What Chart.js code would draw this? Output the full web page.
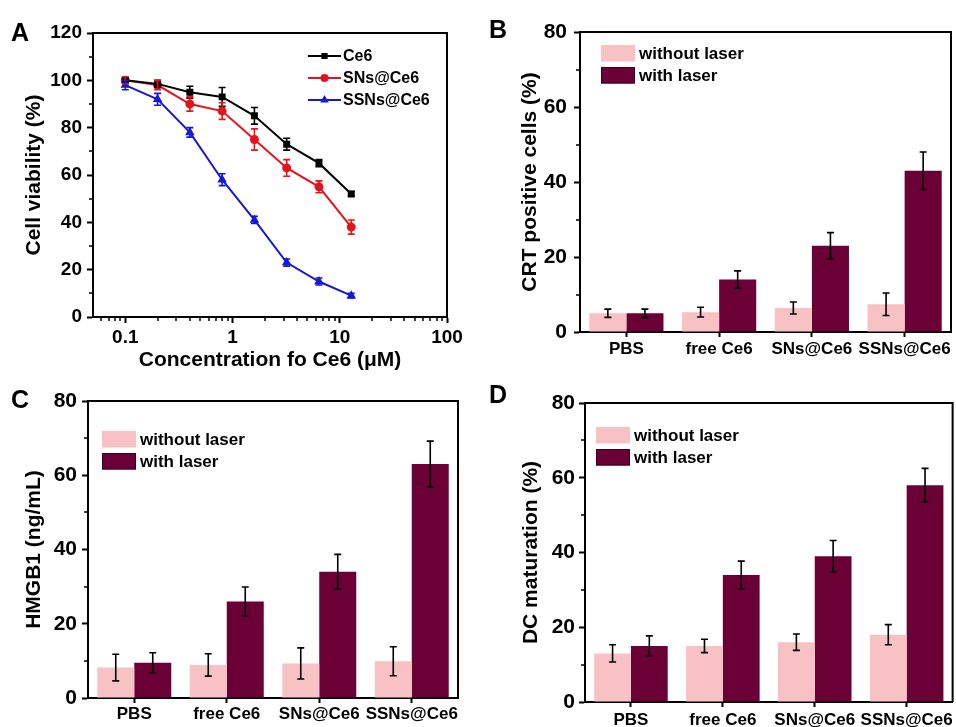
<!DOCTYPE html>
<html>
<head>
<meta charset="utf-8">
<script src="https://cdn.jsdelivr.net/npm/chart.js@4.4.0/dist/chart.umd.min.js"></script>
<style>
  html, body { margin: 0; padding: 0; background: #fff; }
  #wrap { position: relative; width: 956px; height: 727px; overflow: hidden; }
  canvas { position: absolute; }
  .tag { position: absolute; font: bold 25px "Liberation Sans", Arial, sans-serif; line-height: 1; color: #000; }
</style>
</head>
<body>
<div id="wrap">
  <canvas id="cA" width="478" height="380" style="left:0;top:0"></canvas>
  <canvas id="cB" width="478" height="370" style="left:478px;top:0"></canvas>
  <canvas id="cC" width="478" height="357" style="left:0;top:370px"></canvas>
  <canvas id="cD" width="478" height="357" style="left:478px;top:370px"></canvas>
  <div class="tag" style="left:11px;top:20px">A</div>
  <div class="tag" style="left:489px;top:17px">B</div>
  <div class="tag" style="left:11px;top:387px">C</div>
  <div class="tag" style="left:489px;top:382px">D</div>
</div>
<script>
// panel A: cell viability vs concentration
const conc = [0.1, 0.2, 0.4, 0.8, 1.6, 3.2, 6.4, 12.8];
const ce6 = [100, 98.5, 95, 93, 85, 73, 65, 52];
const ce6Err = [1, 1.5, 2.5, 4, 3.5, 2.5, 1.5, 1];
const sns = [100, 98, 90, 87, 75, 63, 55, 38];
const snsErr = [1.5, 2, 3, 3.5, 4.5, 3.5, 2.5, 3];
const ssns = [98, 92, 78, 58, 41, 23, 15, 9];
const ssnsErr = [2, 2.5, 2, 2.5, 1.5, 1.5, 1.5, 1];

// panels B-D
const groups = ['PBS', 'free Ce6', 'SNs@Ce6', 'SSNs@Ce6'];
const crtOff = [5, 5.3, 6.4, 7.4];
const crtOffErr = [1.1, 1.3, 1.6, 3];
const crtOn = [5, 14, 23, 43];
const crtOnErr = [1.1, 2.3, 3.5, 5];
const hmgbOff = [8.2, 8.9, 9.3, 9.9];
const hmgbOffErr = [3.6, 3, 4.2, 3.9];
const hmgbOn = [9.5, 26, 34, 63];
const hmgbOnErr = [2.7, 3.9, 4.7, 6.2];
const dcOff = [13, 15, 16, 18];
const dcOffErr = [2.3, 1.8, 2.2, 2.7];
const dcOn = [15, 34, 39, 58];
const dcOnErr = [2.7, 3.7, 4.2, 4.5];

const FONT = '"Liberation Sans", Arial, sans-serif';
Chart.defaults.font.family = FONT;
Chart.defaults.font.weight = 'bold';
Chart.defaults.color = '#000';

const PINK = '#f8c2c5';
const MAROON = '#6a0036';

function val(d) { return (d !== null && typeof d === 'object') ? d.y : d; }

// error bars, minor ticks, box frame and legend
const deco = {
  id: 'deco',
  afterDatasetsDraw(chart) {
    const ctx = chart.ctx;
    chart.data.datasets.forEach((ds, i) => {
      if (!ds.errors) return;
      const meta = chart.getDatasetMeta(i);
      const ys = chart.scales[meta.yAxisID];
      ctx.save();
      ctx.strokeStyle = ds.errColor || '#000';
      ctx.lineWidth = 1.6;
      meta.data.forEach((el, j) => {
        const v = val(ds.data[j]), e = ds.errors[j];
        const x = el.x;
        const y1 = ys.getPixelForValue(v + e), y2 = ys.getPixelForValue(v - e);
        ctx.beginPath();
        ctx.moveTo(x, y1); ctx.lineTo(x, y2);
        ctx.moveTo(x - 3.5, y1); ctx.lineTo(x + 3.5, y1);
        ctx.moveTo(x - 3.5, y2); ctx.lineTo(x + 3.5, y2);
        ctx.stroke();
      });
      ctx.restore();
    });
  },
  afterDraw(chart, args, o) {
    const ctx = chart.ctx, a = chart.chartArea;
    ctx.save();
    ctx.strokeStyle = '#000';
    ctx.lineWidth = 2;
    // top and right frame
    ctx.beginPath();
    ctx.moveTo(a.left, a.top); ctx.lineTo(a.right, a.top); ctx.lineTo(a.right, a.bottom);
    ctx.stroke();
    // minor y ticks
    const ys = chart.scales.y;
    ctx.lineWidth = 1.5;
    ctx.beginPath();
    for (let v = ys.min + o.minorY; v < ys.max; v += o.minorY * 2) {
      const y = Math.round(ys.getPixelForValue(v));
      ctx.moveTo(a.left, y); ctx.lineTo(a.left - 4, y);
    }
    // minor log x ticks
    if (o.logMinor) {
      const xs = chart.scales.x;
      for (let d = 0.01; d < xs.max; d *= 10) {
        for (let m = 2; m <= 9; m++) {
          const v = m * d;
          if (v <= xs.min || v >= xs.max) continue;
          const x = Math.round(xs.getPixelForValue(v));
          ctx.moveTo(x, a.bottom); ctx.lineTo(x, a.bottom + 4);
        }
      }
    }
    ctx.stroke();
    // legend
    const L = o.legend;
    ctx.font = 'bold ' + L.size + 'px ' + FONT;
    ctx.textBaseline = 'middle';
    ctx.textAlign = 'left';
    chart.data.datasets.forEach((ds, i) => {
      const x0 = a.left + L.dx, yc = a.top + L.dy + i * L.row;
      if (L.kind === 'line') {
        ctx.strokeStyle = ds.borderColor; ctx.fillStyle = ds.borderColor;
        ctx.lineWidth = 2;
        ctx.beginPath(); ctx.moveTo(x0, yc); ctx.lineTo(x0 + 33, yc); ctx.stroke();
        Chart.helpers.drawPoint(ctx, {pointStyle: ds.pointStyle, radius: 3, rotation: 0, borderWidth: 1}, x0 + 16.5, yc);
        ctx.fillStyle = '#000';
        ctx.fillText(ds.label, x0 + 35, yc + 1);
      } else {
        ctx.fillStyle = ds.backgroundColor;
        ctx.fillRect(x0, yc - 8, 34, 16.5);
        if (ds.legendEdge) {
          ctx.strokeStyle = ds.legendEdge; ctx.lineWidth = 1;
          ctx.strokeRect(x0 + 0.5, yc - 7.5, 33, 15.5);
        }
        ctx.fillStyle = '#000';
        ctx.fillText(ds.label, x0 + 38, yc + 1);
      }
    });
    ctx.restore();
  }
};

function fixed(w, h) {
  return function (s) { if (w != null) s.width = w; if (h != null) s.height = h; };
}

// Panel A
const lineSets = [
  ['Ce6', ce6, ce6Err, '#000000', 'rect'],
  ['SNs@Ce6', sns, snsErr, '#e3141c', 'circle'],
  ['SSNs@Ce6', ssns, ssnsErr, '#1717d6', 'triangle']
];
new Chart(document.getElementById('cA'), {
  type: 'line',
  data: {
    datasets: lineSets.map(s => ({
      label: s[0],
      data: conc.map((c, i) => ({x: c, y: s[1][i]})),
      errors: s[2],
      errColor: s[3],
      borderColor: s[3],
      backgroundColor: s[3],
      pointBackgroundColor: s[3],
      pointStyle: s[4],
      pointRadius: s[4] === 'rect' ? 3.5 : 3.5,
      borderWidth: 2,
      tension: 0
    }))
  },
  options: {
    responsive: false, animation: false, devicePixelRatio: 1,
    layout: {padding: {left: 0, top: 33, right: 31, bottom: 0}},
    plugins: {legend: {display: false}, tooltip: {enabled: false},
      deco: {minorY: 10, logMinor: true, legend: {kind: 'line', size: 16, dx: 215, dy: 23, row: 22}}},
    scales: {
      x: {
        type: 'logarithmic', min: 0.05, max: 100,
        afterFit: fixed(null, 63),
        border: {color: '#000', width: 2},
        grid: {drawOnChartArea: false, tickLength: 6, tickWidth: 2,
          tickColor: c => { const v = c.tick ? c.tick.value : 0; const l = Math.log10(v); return Math.abs(l - Math.round(l)) < 1e-6 ? '#000' : 'rgba(0,0,0,0)'; }},
        ticks: {
          autoSkip: false, maxRotation: 0, padding: 3,
          font: {size: 19, weight: 'bold'},
          callback: v => { const l = Math.log10(v); return Math.abs(l - Math.round(l)) < 1e-6 ? String(v) : ''; }
        },
        title: {display: true, text: 'Concentration fo Ce6 (\u03bcM)', font: {size: 21, weight: 'bold'}, padding: {top: 0, bottom: 7}}
      },
      y: {
        min: 0, max: 120,
        afterFit: fixed(93, null),
        border: {color: '#000', width: 2},
        grid: {drawOnChartArea: false, tickLength: 6, tickWidth: 2, tickColor: '#000'},
        ticks: {stepSize: 20, padding: 5, font: {size: 19, weight: 'bold'}},
        title: {display: true, text: 'Cell viability (%)', font: {size: 21, weight: 'bold'}, padding: {top: 22, bottom: 0}}
      }
    }
  },
  plugins: [deco]
});

// Panels B-D
function barPanel(id, title, off, offErr, on, onErr, geom) {
  new Chart(document.getElementById(id), {
    type: 'bar',
    data: {
      labels: groups,
      datasets: [
        {label: 'without laser', data: off, errors: offErr, backgroundColor: PINK, borderWidth: 0},
        {label: 'with laser', data: on, errors: onErr, backgroundColor: MAROON, borderWidth: 0, legendEdge: '#3a001c'}
      ]
    },
    options: {
      responsive: false, animation: false, devicePixelRatio: 1,
      layout: {padding: {left: 0, top: geom.top, right: geom.right, bottom: 0}},
      datasets: {bar: {categoryPercentage: 0.8, barPercentage: 1.0}},
      plugins: {legend: {display: false}, tooltip: {enabled: false},
        deco: {minorY: 10, legend: {kind: 'box', size: 17, dx: geom.ldx, dy: geom.ldy, row: 22}}},
      scales: {
        x: {
          afterFit: fixed(null, geom.xh),
          border: {color: '#000', width: 2},
          grid: {offset: false, drawOnChartArea: false, tickLength: 5, tickWidth: 2, tickColor: '#000'},
          ticks: {autoSkip: false, maxRotation: 0, padding: geom.xpad, font: {size: 17, weight: 'bold'}}
        },
        y: {
          min: 0, max: 80,
          afterFit: fixed(geom.yw, null),
          border: {color: '#000', width: 2},
          grid: {drawOnChartArea: false, tickLength: 6, tickWidth: 2, tickColor: '#000'},
          ticks: {stepSize: 20, padding: geom.ypad, font: {size: 21, weight: 'bold'}},
          title: {display: true, text: title, font: {size: 21, weight: 'bold'}, padding: {top: geom.tpad, bottom: 0}}
        }
      }
    },
    plugins: [deco]
  });
}

barPanel('cB', 'CRT positive cells (%)', crtOff, crtOffErr, crtOn, crtOnErr,
  {top: 32, right: 5, xh: 38, yw: 102, xpad: 2, ypad: 7, tpad: 40, ldx: 21, ldy: 21, row: 22});
barPanel('cC', 'HMGB1 (ng/mL)', hmgbOff, hmgbOffErr, hmgbOn, hmgbOnErr,
  {top: 31, right: 20, xh: 29, yw: 88, xpad: 1, ypad: 5, tpad: 22, ldx: 14, ldy: 38, row: 22});
barPanel('cD', 'DC maturation (%)', dcOff, dcOffErr, dcOn, dcOnErr,
  {top: 33, right: 2, xh: 25, yw: 107, xpad: 3, ypad: 4, tpad: 41, ldx: 11, ldy: 32, row: 21.5});
</script>
</body>
</html>
